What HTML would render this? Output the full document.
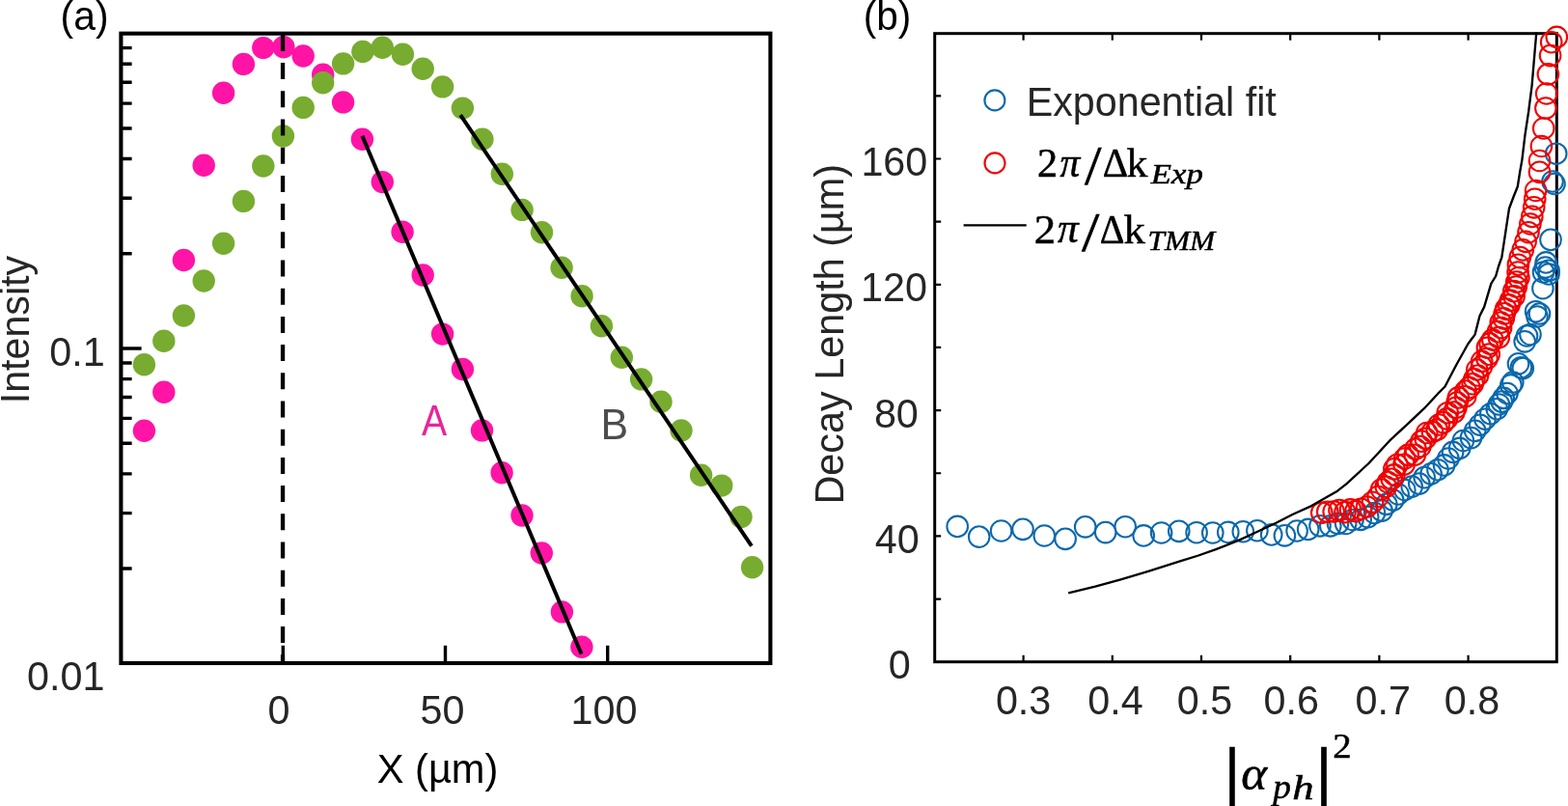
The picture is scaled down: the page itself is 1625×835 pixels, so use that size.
<!DOCTYPE html>
<html><head><meta charset="utf-8"><title>Figure</title>
<style>html,body{margin:0;padding:0;background:#fff;}svg{display:block;}</style></head>
<body><svg width="1625" height="835" viewBox="0 0 1625 835">
<rect width="1625" height="835" fill="#fff"/>
<g fill="#FF14A6"><circle cx="149.4" cy="446.3" r="11.7"/><circle cx="169.8" cy="406.3" r="11.7"/><circle cx="190.4" cy="269.5" r="11.7"/><circle cx="211.2" cy="171.3" r="11.7"/><circle cx="231.6" cy="96.3" r="11.7"/><circle cx="252.4" cy="66.4" r="11.7"/><circle cx="272.8" cy="49.6" r="11.7"/><circle cx="293.9" cy="48.7" r="11.7"/><circle cx="314.2" cy="58" r="11.7"/><circle cx="334.7" cy="77.2" r="11.7"/><circle cx="355.6" cy="105.9" r="11.7"/><circle cx="375.4" cy="144.3" r="11.7"/><circle cx="396.3" cy="188.6" r="11.7"/><circle cx="417.1" cy="240.2" r="11.7"/><circle cx="438.2" cy="285" r="11.7"/><circle cx="458.6" cy="346.1" r="11.7"/><circle cx="479.4" cy="382.5" r="11.7"/><circle cx="499.5" cy="445.9" r="11.7"/><circle cx="520.1" cy="489.7" r="11.7"/><circle cx="541" cy="534" r="11.7"/><circle cx="561.3" cy="573" r="11.7"/><circle cx="582.4" cy="633.9" r="11.7"/><circle cx="602.9" cy="670.3" r="11.7"/></g>
<g fill="#77AC30"><circle cx="149.4" cy="377.7" r="11.7"/><circle cx="169.8" cy="353.3" r="11.7"/><circle cx="190.4" cy="327" r="11.7"/><circle cx="211.2" cy="291" r="11.7"/><circle cx="231.6" cy="252.2" r="11.7"/><circle cx="252.4" cy="208.4" r="11.7"/><circle cx="272.8" cy="172" r="11.7"/><circle cx="293.4" cy="140.9" r="11.7"/><circle cx="314.2" cy="111.4" r="11.7"/><circle cx="334.7" cy="85.8" r="11.7"/><circle cx="355.6" cy="65.9" r="11.7"/><circle cx="375.9" cy="53.5" r="11.7"/><circle cx="396.3" cy="49.2" r="11.7"/><circle cx="417.4" cy="56.3" r="11.7"/><circle cx="438.2" cy="71.2" r="11.7"/><circle cx="458.6" cy="89.9" r="11.7"/><circle cx="479.4" cy="112.1" r="11.7"/><circle cx="499.9" cy="144.3" r="11.7"/><circle cx="520.3" cy="180.2" r="11.7"/><circle cx="541.1" cy="217.4" r="11.7"/><circle cx="561.5" cy="240.8" r="11.7"/><circle cx="582.1" cy="277.2" r="11.7"/><circle cx="603.1" cy="306.7" r="11.7"/><circle cx="623.4" cy="337.8" r="11.7"/><circle cx="644.3" cy="370.2" r="11.7"/><circle cx="664.6" cy="392.9" r="11.7"/><circle cx="685" cy="416.2" r="11.7"/><circle cx="706" cy="446" r="11.7"/><circle cx="726.6" cy="492.3" r="11.7"/><circle cx="747.8" cy="503.1" r="11.7"/><circle cx="768" cy="535.5" r="11.7"/><circle cx="779.6" cy="587.8" r="11.7"/></g>
<line x1="293.05" y1="35.9" x2="293.05" y2="687" stroke="#000" stroke-width="4.3" stroke-dasharray="17 12.2"/>
<line x1="375.4" y1="140.7" x2="602.5" y2="677.5" stroke="#000" stroke-width="4"/>
<line x1="477.2" y1="119.2" x2="778.9" y2="565.6" stroke="#000" stroke-width="4"/>
<path d="M125.4,262.77h11.2M125.4,205.32h11.2M125.4,164.55h11.2M125.4,132.93h11.2M125.4,107.09h11.2M125.4,85.24h11.2M125.4,66.32h11.2M125.4,49.63h11.2M125.4,589.07h11.2M125.4,531.62h11.2M125.4,490.85h11.2M125.4,459.23h11.2M125.4,433.39h11.2M125.4,411.54h11.2M125.4,392.62h11.2M125.4,375.93h11.2M125.4,361.00h21.2M293.30,687.0v-18.3M461.50,687.0v-18.3M629.70,687.0v-18.3" stroke="#000" stroke-width="3.4" fill="none"/>
<rect x="125.4" y="34.7" width="673.0" height="652.3" fill="none" stroke="#000" stroke-width="4.1"/>
<path d="M968.7,620.55h6.5M968.7,555.40h6.5M968.7,490.25h6.5M968.7,425.10h6.5M968.7,359.95h6.5M968.7,294.80h6.5M968.7,229.65h6.5M968.7,164.50h6.5M968.7,99.35h6.5M1060.60,685.7v-7M1060.60,34.7v7M1152.80,685.7v-7M1152.80,34.7v7M1245.00,685.7v-7M1245.00,34.7v7M1337.20,685.7v-7M1337.20,34.7v7M1429.40,685.7v-7M1429.40,34.7v7M1521.60,685.7v-7M1521.60,34.7v7" stroke="#000" stroke-width="2.2" fill="none"/>
<rect x="968.7" y="34.7" width="644.6" height="651.0" fill="none" stroke="#000" stroke-width="3"/>
<g fill="none" stroke="#0A68AC" stroke-width="2.05"><circle cx="992.2" cy="545.4" r="10.8"/><circle cx="1014.7" cy="556.1" r="10.8"/><circle cx="1037.6" cy="550.0" r="10.8"/><circle cx="1060.0" cy="548.3" r="10.8"/><circle cx="1082.3" cy="555.0" r="10.8"/><circle cx="1104.1" cy="558.3" r="10.8"/><circle cx="1124.7" cy="545.8" r="10.8"/><circle cx="1145.7" cy="551.6" r="10.8"/><circle cx="1166.2" cy="545.7" r="10.8"/><circle cx="1185.2" cy="554.9" r="10.8"/><circle cx="1203.6" cy="552.0" r="10.8"/><circle cx="1221.8" cy="550.3" r="10.8"/><circle cx="1240.1" cy="551.7" r="10.8"/><circle cx="1256.8" cy="552.0" r="10.8"/><circle cx="1272.8" cy="551.4" r="10.8"/><circle cx="1288.3" cy="550.7" r="10.8"/><circle cx="1302.9" cy="549.7" r="10.8"/><circle cx="1317.7" cy="553.9" r="10.8"/><circle cx="1331.4" cy="554.8" r="10.8"/><circle cx="1344.1" cy="550.0" r="10.8"/><circle cx="1355.7" cy="548.4" r="10.8"/><circle cx="1368.0" cy="544.8" r="10.8"/><circle cx="1378.8" cy="544.8" r="10.8"/><circle cx="1386.5" cy="542.4" r="10.8"/><circle cx="1394.7" cy="542.5" r="10.8"/><circle cx="1402.0" cy="538.5" r="10.8"/><circle cx="1410.2" cy="538.3" r="10.8"/><circle cx="1417.7" cy="535.6" r="10.8"/><circle cx="1424.5" cy="531.5" r="10.8"/><circle cx="1432.1" cy="529.1" r="10.8"/><circle cx="1436.8" cy="522.3" r="10.8"/><circle cx="1443.7" cy="518.1" r="10.8"/><circle cx="1449.1" cy="512.0" r="10.8"/><circle cx="1455.8" cy="507.5" r="10.8"/><circle cx="1463.2" cy="504.1" r="10.8"/><circle cx="1470.8" cy="501.1" r="10.8"/><circle cx="1476.2" cy="494.6" r="10.8"/><circle cx="1483.1" cy="490.8" r="10.8"/><circle cx="1490.0" cy="486.7" r="10.8"/><circle cx="1496.6" cy="481.9" r="10.8"/><circle cx="1500.9" cy="475.0" r="10.8"/><circle cx="1505.6" cy="468.4" r="10.8"/><circle cx="1512.7" cy="464.4" r="10.8"/><circle cx="1516.4" cy="456.5" r="10.8"/><circle cx="1524.5" cy="453.6" r="10.8"/><circle cx="1528.7" cy="446.3" r="10.8"/><circle cx="1533.8" cy="440.2" r="10.8"/><circle cx="1539.0" cy="434.2" r="10.8"/><circle cx="1544.8" cy="428.7" r="10.8"/><circle cx="1551.3" cy="423.7" r="10.8"/><circle cx="1553.4" cy="419.0" r="10.8"/><circle cx="1556.3" cy="416.1" r="10.8"/><circle cx="1558.2" cy="412.3" r="10.8"/><circle cx="1562.0" cy="407.5" r="10.8"/><circle cx="1565.9" cy="398.9" r="10.8"/><circle cx="1567.8" cy="396.0" r="10.8"/><circle cx="1573.5" cy="376.8" r="10.8"/><circle cx="1576.4" cy="380.7" r="10.8"/><circle cx="1578.3" cy="381.6" r="10.8"/><circle cx="1580.2" cy="353.8" r="10.8"/><circle cx="1582.5" cy="348.0" r="10.8"/><circle cx="1586.0" cy="346.5" r="10.8"/><circle cx="1591.6" cy="322.7" r="10.8"/><circle cx="1595.5" cy="325.0" r="10.8"/><circle cx="1593.0" cy="328.0" r="10.8"/><circle cx="1598.9" cy="298.7" r="10.8"/><circle cx="1599.5" cy="282.0" r="10.8"/><circle cx="1605.1" cy="280.3" r="10.8"/><circle cx="1602.2" cy="271.9" r="10.8"/><circle cx="1601.5" cy="277.0" r="10.8"/><circle cx="1605.0" cy="284.0" r="10.8"/><circle cx="1607.0" cy="248.4" r="10.8"/><circle cx="1609.0" cy="188.0" r="10.8"/><circle cx="1611.0" cy="190.5" r="10.8"/><circle cx="1612.7" cy="159.2" r="10.8"/></g>
<g fill="none" stroke="#F00000" stroke-width="2.05"><circle cx="1369.8" cy="531.2" r="10.8"/><circle cx="1375.8" cy="530.2" r="10.8"/><circle cx="1382.2" cy="530.0" r="10.8"/><circle cx="1388.0" cy="528.6" r="10.8"/><circle cx="1394.0" cy="530.6" r="10.8"/><circle cx="1399.5" cy="527.9" r="10.8"/><circle cx="1405.0" cy="529.6" r="10.8"/><circle cx="1410.5" cy="527.2" r="10.8"/><circle cx="1416.6" cy="525.0" r="10.8"/><circle cx="1422.4" cy="520.2" r="10.8"/><circle cx="1428.1" cy="514.5" r="10.8"/><circle cx="1431.7" cy="507.0" r="10.8"/><circle cx="1436.3" cy="504.2" r="10.8"/><circle cx="1438.5" cy="499.6" r="10.8"/><circle cx="1442.3" cy="496.2" r="10.8"/><circle cx="1444.9" cy="491.9" r="10.8"/><circle cx="1444.9" cy="485.8" r="10.8"/><circle cx="1447.9" cy="481.6" r="10.8"/><circle cx="1455.1" cy="481.2" r="10.8"/><circle cx="1455.8" cy="475.0" r="10.8"/><circle cx="1459.2" cy="471.4" r="10.8"/><circle cx="1466.3" cy="471.2" r="10.8"/><circle cx="1467.0" cy="465.1" r="10.8"/><circle cx="1471.9" cy="462.5" r="10.8"/><circle cx="1473.1" cy="457.1" r="10.8"/><circle cx="1477.2" cy="454.2" r="10.8"/><circle cx="1478.7" cy="448.5" r="10.8"/><circle cx="1484.5" cy="447.4" r="10.8"/><circle cx="1489.2" cy="445.1" r="10.8"/><circle cx="1491.3" cy="440.0" r="10.8"/><circle cx="1495.9" cy="437.6" r="10.8"/><circle cx="1499.3" cy="433.9" r="10.8"/><circle cx="1500.2" cy="427.7" r="10.8"/><circle cx="1506.9" cy="427.1" r="10.8"/><circle cx="1508.9" cy="422.3" r="10.8"/><circle cx="1510.1" cy="417.1" r="10.8"/><circle cx="1511.4" cy="411.9" r="10.8"/><circle cx="1518.7" cy="410.7" r="10.8"/><circle cx="1519.0" cy="405.0" r="10.8"/><circle cx="1522.8" cy="401.4" r="10.8"/><circle cx="1526.2" cy="397.7" r="10.8"/><circle cx="1527.9" cy="392.8" r="10.8"/><circle cx="1531.5" cy="389.0" r="10.8"/><circle cx="1530.8" cy="383.0" r="10.8"/><circle cx="1535.4" cy="379.8" r="10.8"/><circle cx="1535.7" cy="374.3" r="10.8"/><circle cx="1541.0" cy="371.5" r="10.8"/><circle cx="1543.2" cy="367.1" r="10.8"/><circle cx="1541.4" cy="360.2" r="10.8"/><circle cx="1544.1" cy="356.1" r="10.8"/><circle cx="1546.8" cy="351.9" r="10.8"/><circle cx="1553.3" cy="349.6" r="10.8"/><circle cx="1552.5" cy="343.6" r="10.8"/><circle cx="1555.6" cy="339.5" r="10.8"/><circle cx="1555.3" cy="334.1" r="10.8"/><circle cx="1558.3" cy="329.8" r="10.8"/><circle cx="1559.2" cy="324.8" r="10.8"/><circle cx="1560.7" cy="320.1" r="10.8"/><circle cx="1563.8" cy="315.9" r="10.8"/><circle cx="1565.6" cy="311.2" r="10.8"/><circle cx="1569.1" cy="306.9" r="10.8"/><circle cx="1568.8" cy="301.6" r="10.8"/><circle cx="1571.3" cy="297.0" r="10.8"/><circle cx="1571.8" cy="292.1" r="10.8"/><circle cx="1573.9" cy="287.5" r="10.8"/><circle cx="1573.1" cy="282.1" r="10.8"/><circle cx="1573.4" cy="274.2" r="10.8"/><circle cx="1575.3" cy="266.6" r="10.8"/><circle cx="1578.2" cy="258.9" r="10.8"/><circle cx="1581.1" cy="250.3" r="10.8"/><circle cx="1584.0" cy="240.7" r="10.8"/><circle cx="1585.9" cy="232.0" r="10.8"/><circle cx="1587.8" cy="224.4" r="10.8"/><circle cx="1589.7" cy="214.8" r="10.8"/><circle cx="1590.7" cy="206.2" r="10.8"/><circle cx="1591.6" cy="197.5" r="10.8"/><circle cx="1595.5" cy="178.4" r="10.8"/><circle cx="1595.5" cy="166.5" r="10.8"/><circle cx="1597.4" cy="151.5" r="10.8"/><circle cx="1599.7" cy="133.0" r="10.8"/><circle cx="1601.9" cy="112.1" r="10.8"/><circle cx="1602.7" cy="97.0" r="10.8"/><circle cx="1604.4" cy="76.9" r="10.8"/><circle cx="1606.6" cy="57.6" r="10.8"/><circle cx="1607.7" cy="43.7" r="10.8"/><circle cx="1613.3" cy="38.4" r="10.8"/></g>
<polyline points="1107.2,614.3 1135,607.6 1161.5,600.3 1190,591.8 1223,581.3 1242,575.5 1260,569.2 1284.6,559.4 1300,552.3 1322.4,541.7 1340,532.7 1359.2,524.1 1386,508.7 1395.6,501.1 1418.5,480 1440,456.7 1459.2,438.8 1475.9,423.2 1490.3,407.7 1497.5,400.5 1509.4,377.7 1521.4,356.2 1528.6,346.6 1533.4,327.5 1538.2,317.9 1545.3,293.9 1550.2,286 1553,276 1556.4,266.3 1560.2,241.1 1564,216 1568.5,204 1572.8,193.3 1575.2,178 1577.4,165.6 1580.4,140.4 1584.2,115.2 1587.6,88.6 1591,48.4 1592.3,33.5" fill="none" stroke="#000" stroke-width="2.35" stroke-linejoin="round"/>
<circle cx="1030.9" cy="103.9" r="10.5" fill="none" stroke="#0A68AC" stroke-width="2.1"/>
<circle cx="1031" cy="168.9" r="10.5" fill="none" stroke="#F00000" stroke-width="2.1"/>
<line x1="998.6" y1="233.3" x2="1063.7" y2="233.3" stroke="#000" stroke-width="2.2"/>
<text transform="translate(51.35,379.07) scale(0.9650,1)" font-family="Liberation Sans, sans-serif" font-size="42.80" fill="#262626">0.1</text>
<text transform="translate(28.05,715.27) scale(0.9650,1)" font-family="Liberation Sans, sans-serif" font-size="42.80" fill="#262626">0.01</text>
<text transform="translate(277.54,750.17) scale(0.9650,1)" font-family="Liberation Sans, sans-serif" font-size="42.80" fill="#262626">0</text>
<text transform="translate(435.58,750.37) scale(0.9650,1)" font-family="Liberation Sans, sans-serif" font-size="42.80" fill="#262626">50</text>
<text transform="translate(591.48,750.37) scale(0.9650,1)" font-family="Liberation Sans, sans-serif" font-size="42.80" fill="#262626">100</text>
<text transform="translate(390.75,810.80) scale(0.9586,1)" font-family="Liberation Sans, sans-serif" font-size="43.40" fill="#000">X (µm)</text>
<text transform="translate(437.00,450.90) scale(0.8959,1)" font-family="Liberation Sans, sans-serif" font-size="43.80" fill="#E8259A">A</text>
<text transform="translate(622.57,454.60) scale(0.9690,1)" font-family="Liberation Sans, sans-serif" font-size="44.20" fill="#4D4D4D">B</text>
<text transform="translate(30.20,418.31) rotate(-90) scale(0.9720,1)" font-family="Liberation Sans, sans-serif" font-size="42.40" fill="#262626">Intensity</text>
<text transform="translate(62.55,30.60) scale(0.9558,1)" font-family="Liberation Sans, sans-serif" font-size="42.80" fill="#000">(a)</text>
<text transform="translate(894.87,30.50) scale(0.9452,1)" font-family="Liberation Sans, sans-serif" font-size="42.80" fill="#000">(b)</text>
<text transform="translate(920.74,703.47) scale(0.9650,1)" font-family="Liberation Sans, sans-serif" font-size="42.80" fill="#262626">0</text>
<text transform="translate(906.69,573.47) scale(0.9650,1)" font-family="Liberation Sans, sans-serif" font-size="42.80" fill="#262626">40</text>
<text transform="translate(905.88,443.17) scale(0.9650,1)" font-family="Liberation Sans, sans-serif" font-size="42.80" fill="#262626">80</text>
<text transform="translate(892.08,312.17) scale(0.9650,1)" font-family="Liberation Sans, sans-serif" font-size="42.80" fill="#262626">120</text>
<text transform="translate(892.38,182.37) scale(0.9650,1)" font-family="Liberation Sans, sans-serif" font-size="42.80" fill="#262626">160</text>
<text transform="translate(1031.90,739.67) scale(0.9650,1)" font-family="Liberation Sans, sans-serif" font-size="42.80" fill="#262626">0.3</text>
<text transform="translate(1127.24,739.67) scale(0.9650,1)" font-family="Liberation Sans, sans-serif" font-size="42.80" fill="#262626">0.4</text>
<text transform="translate(1219.75,739.67) scale(0.9650,1)" font-family="Liberation Sans, sans-serif" font-size="42.80" fill="#262626">0.5</text>
<text transform="translate(1309.45,739.67) scale(0.9650,1)" font-family="Liberation Sans, sans-serif" font-size="42.80" fill="#262626">0.6</text>
<text transform="translate(1404.55,739.67) scale(0.9650,1)" font-family="Liberation Sans, sans-serif" font-size="42.80" fill="#262626">0.7</text>
<text transform="translate(1496.85,739.67) scale(0.9650,1)" font-family="Liberation Sans, sans-serif" font-size="42.80" fill="#262626">0.8</text>
<text transform="translate(873.80,522.61) rotate(-90) scale(0.9712,1)" font-family="Liberation Sans, sans-serif" font-size="42.60" fill="#262626">Decay Length (µm)</text>
<text transform="translate(1063.70,119.80) scale(0.9506,1)" font-family="Liberation Sans, sans-serif" font-size="43.40" fill="#262626">Exponential fit</text>
<text transform="translate(1075.01,183.00) scale(1.0209,1)" font-family="Liberation Serif, serif" font-size="41.38" fill="#000" stroke-width="0.5" stroke="#000">2</text>
<text transform="translate(1098.49,182.56) scale(0.9485,1)" font-family="Liberation Serif, serif" font-style="italic" font-size="43.62" fill="#000" stroke-width="0.5" stroke="#000">π</text>
<text transform="translate(1124.00,191.22) scale(1.0917,1)" font-family="Liberation Serif, serif" font-size="57.58" fill="#000" stroke-width="0.5" stroke="#000">/</text>
<text transform="translate(1142.86,183.00) scale(0.9853,1)" font-family="Liberation Serif, serif" font-size="41.67" fill="#000" stroke-width="0.5" stroke="#000">Δ</text>
<text transform="translate(1167.62,183.00) scale(1.0338,1)" font-family="Liberation Serif, serif" font-size="42.32" fill="#000" stroke-width="0.5" stroke="#000">k</text>
<text transform="translate(1192.75,190.42) scale(1.2205,1)" font-family="Liberation Serif, serif" font-style="italic" font-size="28.49" fill="#000" stroke-width="0.5" stroke="#000">Exp</text>
<text transform="translate(1071.81,251.70) scale(1.0351,1)" font-family="Liberation Serif, serif" font-size="43.23" fill="#000" stroke-width="0.5" stroke="#000">2</text>
<text transform="translate(1095.97,251.25) scale(0.9562,1)" font-family="Liberation Serif, serif" font-style="italic" font-size="45.32" fill="#000" stroke-width="0.5" stroke="#000">π</text>
<text transform="translate(1121.00,259.93) scale(1.1629,1)" font-family="Liberation Serif, serif" font-size="56.82" fill="#000" stroke-width="0.5" stroke="#000">/</text>
<text transform="translate(1139.70,251.70) scale(0.9600,1)" font-family="Liberation Serif, serif" font-size="41.67" fill="#000" stroke-width="0.5" stroke="#000">Δ</text>
<text transform="translate(1164.40,251.70) scale(1.0548,1)" font-family="Liberation Serif, serif" font-size="42.46" fill="#000" stroke-width="0.5" stroke="#000">k</text>
<text transform="translate(1189.61,259.30) scale(1.1004,1)" font-family="Liberation Serif, serif" font-style="italic" font-size="28.46" fill="#000" stroke-width="0.5" stroke="#000">TMM</text>
<text transform="translate(1267.10,833.57) scale(1.1392,1)" font-family="Liberation Serif, serif" font-size="87.78" fill="#000" stroke-width="0.5" stroke="#000">|</text>
<text transform="translate(1286.16,817.99) scale(0.9986,1)" font-family="Liberation Serif, serif" font-style="italic" font-size="51.25" fill="#000" stroke-width="0.5" stroke="#000">α</text>
<text transform="translate(1319.24,826.93) scale(1.0369,1)" font-family="Liberation Serif, serif" font-style="italic" font-size="36.03" fill="#000" stroke-width="0.5" stroke="#000">p</text>
<text transform="translate(1339.21,828.00) scale(1.2816,1)" font-family="Liberation Serif, serif" font-style="italic" font-size="34.93" fill="#000" stroke-width="0.5" stroke="#000">h</text>
<text transform="translate(1361.50,833.57) scale(1.1962,1)" font-family="Liberation Serif, serif" font-size="87.78" fill="#000" stroke-width="0.5" stroke="#000">|</text>
<text transform="translate(1381.25,784.60) scale(1.0718,1)" font-family="Liberation Serif, serif" font-size="36.15" fill="#000" stroke-width="0.5" stroke="#000">2</text>
</svg></body></html>
